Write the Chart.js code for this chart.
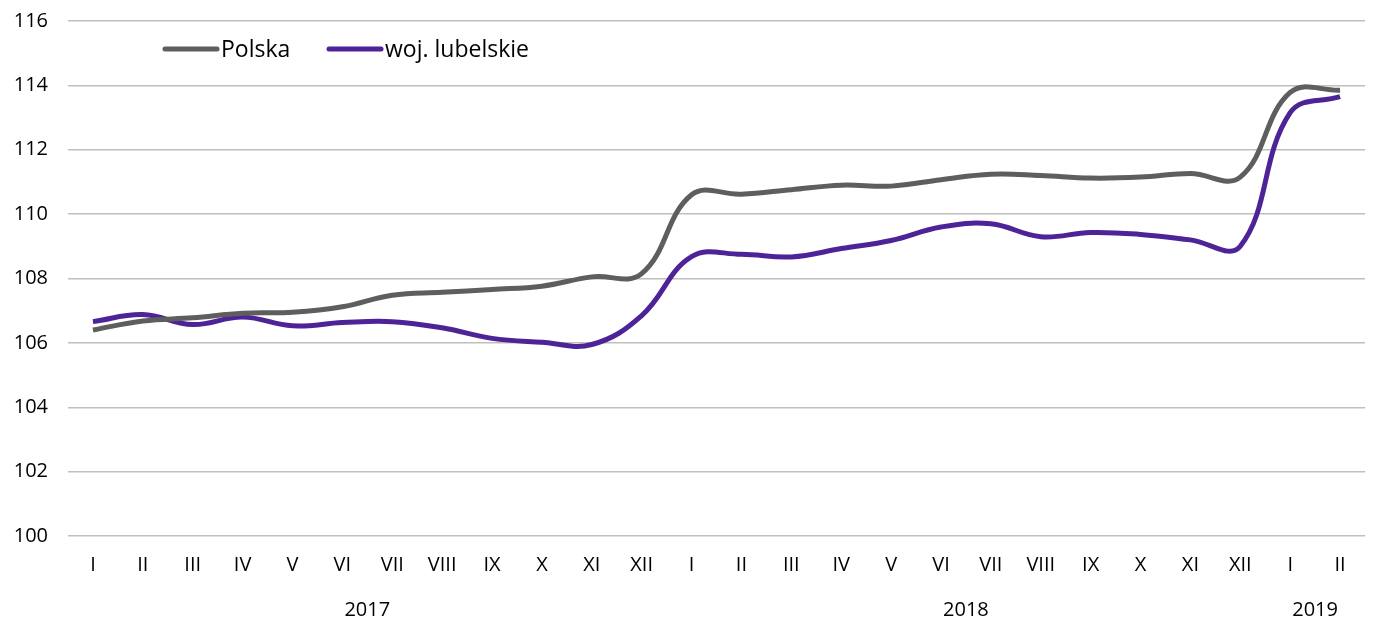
<!DOCTYPE html>
<html>
<head>
<meta charset="utf-8">
<script src="https://cdn.jsdelivr.net/npm/chart.js@4/dist/chart.umd.min.js"></script>
<style>
  html, body { margin: 0; padding: 0; background: #ffffff; }
  #wrap { width: 1373px; height: 621px; position: relative; }
</style>
</head>
<body>
<div id="wrap"><canvas id="c" width="1373" height="621"></canvas></div>
<script>
const months = ['I','II','III','IV','V','VI','VII','VIII','IX','X','XI','XII',
                'I','II','III','IV','V','VI','VII','VIII','IX','X','XI','XII',
                'I','II'];
const years = [
  { label: '2017', from: 0, to: 11 },
  { label: '2018', from: 12, to: 23 },
  { label: '2019', from: 24, to: 25 }
];
const polska = [106.4, 106.68, 106.78, 106.92, 106.95, 107.12, 107.48, 107.57, 107.66, 107.76, 108.05, 108.15,
                110.6, 110.62, 110.76, 110.9, 110.87, 111.07, 111.24, 111.2, 111.12, 111.15, 111.26, 111.15,
                113.78, 113.85];
const lubelskie = [106.66, 106.88, 106.57, 106.8, 106.53, 106.63, 106.66, 106.47, 106.14, 106.02, 105.95, 106.85,
                   108.68, 108.75, 108.67, 108.93, 109.18, 109.6, 109.7, 109.3, 109.43, 109.37, 109.2, 109.0,
                   113.15, 113.65];
const yTicks = [100, 102, 104, 106, 108, 110, 112, 114, 116];

const FONT = "'Open Sans', 'Noto Sans', sans-serif";
const GRAY = '#5e5e5e';
const PURPLE = '#4f2398';

const legendPlugin = {
  id: 'insideLegend',
  afterDraw(chart) {
    const ctx = chart.ctx;
    const items = [
      { text: 'Polska', color: GRAY, x: 165 },
      { text: 'woj. lubelskie', color: PURPLE, x: 329 }
    ];
    const y = 49;
    ctx.save();
    ctx.font = '23px ' + FONT;
    ctx.textBaseline = 'middle';
    ctx.textAlign = 'left';
    items.forEach(it => {
      ctx.strokeStyle = it.color;
      ctx.lineWidth = 5;
      ctx.lineCap = 'round';
      ctx.beginPath();
      ctx.moveTo(it.x, y);
      ctx.lineTo(it.x + 52, y);
      ctx.stroke();
      ctx.fillStyle = '#000000';
      ctx.fillText(it.text, it.x + 56, y + 1);
    });
    ctx.restore();
  }
};

const yearPlugin = {
  id: 'yearLabels',
  afterDraw(chart) {
    const ctx = chart.ctx;
    const xs = chart.scales.x;
    ctx.save();
    ctx.font = '20px ' + FONT;
    ctx.fillStyle = '#000000';
    ctx.textAlign = 'center';
    ctx.textBaseline = 'middle';
    years.forEach(yr => {
      const x = (xs.getPixelForValue(yr.from) + xs.getPixelForValue(yr.to)) / 2;
      ctx.fillText(yr.label, x, 610);
    });
    ctx.restore();
  }
};

new Chart(document.getElementById('c'), {
  type: 'line',
  data: {
    labels: months,
    datasets: [
      { label: 'Polska', data: polska, borderColor: GRAY, borderWidth: 5, pointRadius: 0, tension: 0.4, fill: false },
      { label: 'woj. lubelskie', data: lubelskie, borderColor: PURPLE, borderWidth: 5, pointRadius: 0, tension: 0.4, fill: false }
    ]
  },
  options: {
    responsive: false,
    animation: false,
    layout: { padding: { top: 21, right: 8, left: 0, bottom: 0 } },
    plugins: { legend: { display: false }, tooltip: { enabled: false } },
    scales: {
      x: {
        offset: true,
        grid: { display: false, drawTicks: false },
        border: { display: false },
        ticks: { color: '#000000', font: { family: FONT, size: 20 }, padding: 17, maxRotation: 0, autoSkip: false },
        afterFit(scale) { scale.height = 85; scale.paddingLeft = 0; scale.paddingRight = 0; }
      },
      y: {
        min: 100, max: 116,
        afterBuildTicks(scale) { scale.ticks = yTicks.map(v => ({ value: v })); },
        grid: { color: '#bfbfbf', lineWidth: 1.5, drawTicks: false },
        border: { display: false },
        ticks: { color: '#000000', font: { family: FONT, size: 20 }, padding: 20 },
        afterFit(scale) { scale.width = 68; scale.paddingTop = 0; scale.paddingBottom = 0; }
      }
    }
  },
  plugins: [legendPlugin, yearPlugin]
});
</script>
</body>
</html>
